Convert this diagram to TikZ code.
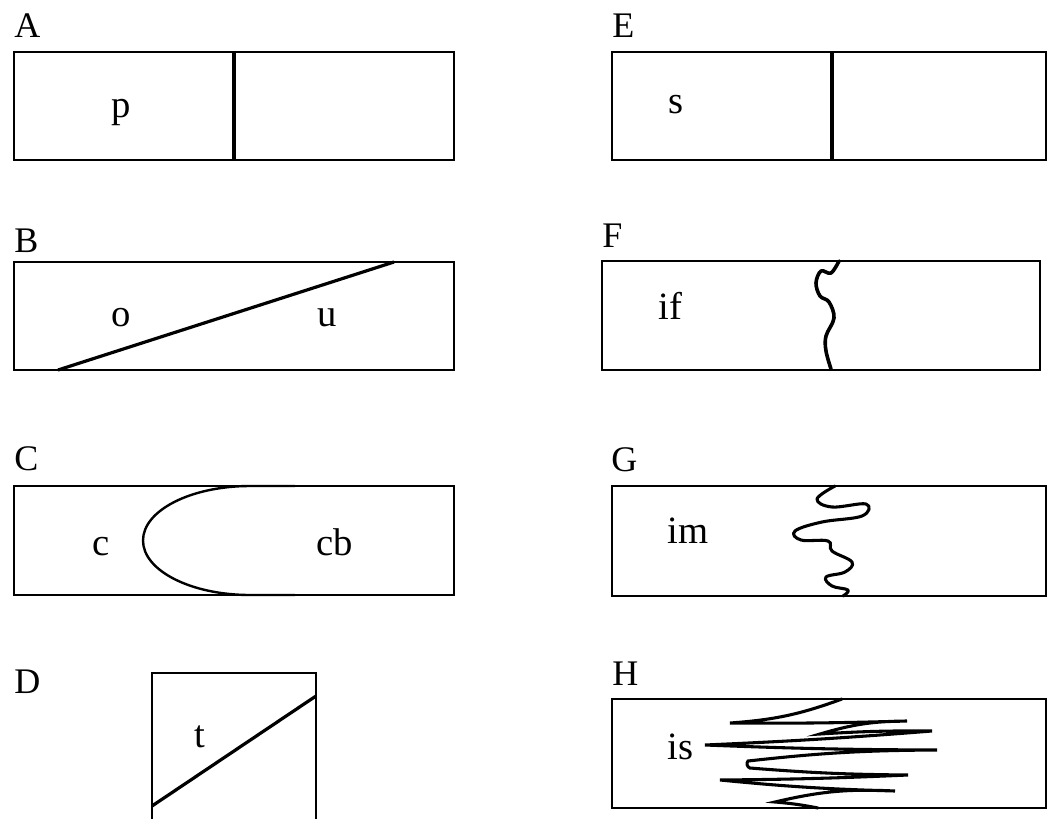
\documentclass[tikz,border=0pt]{standalone}
\usepackage{fontspec}
\setmainfont{Liberation Serif}
\tikzset{%
  % shapes
  panel/.style={draw, line width=1.8pt},
  split/.style={line width=2.4pt},
  wave/.style={line width=2.7pt, line join=round, line cap=round},
  % texts
  tag/.style={anchor=base west, inner sep=0pt, font=\fontsize{27}{32}\selectfont},
  part/.style={anchor=base west, inner sep=0pt, font=\fontsize{29}{34}\selectfont},
}
\begin{document}
\begin{tikzpicture}[x=0.75pt, y=-0.75pt]
  \clip (0,0) rectangle (1057,818);
  \useasboundingbox (0,0) rectangle (1057,818);

  % A: split in two
  \node[tag] (labA) at (14,37) {A};
  \draw[panel] (14,52) rectangle (454,160);
  \draw[split] (234,52) -- (234,160);
  \node[part] (p) at (111,117) {p};

  % B: oblique cut
  \node[tag] (labB) at (14,252) {B};
  \draw[panel] (14,262) rectangle (454,370);
  \draw[split] (58,370) -- (394,262);
  \node[part] (o) at (111,326) {o};
  \node[part] (u) at (317,326) {u};

  % C: curved cut
  \node[tag] (labC) at (14,470) {C};
  \draw[panel] (14,486) rectangle (454,595);
  \draw[line width=1.8pt] (295,486) -- (250,486)
    arc[start angle=270, end angle=90, x radius=107, y radius=54.5] -- (295,595);
  \node[part] (c) at (92,555) {c};
  \node[part] (cb) at (316,555) {cb};

  % D: tall piece
  \node[tag] (labD) at (14,693) {D};
  \draw[panel] (152,830) |- (316,673) -- (316,830);
  \draw[split] (152,806) -- (316,696);
  \node[part] (t) at (194,747) {t};

  % E: split in two
  \node[tag] (labE) at (612,37) {E};
  \draw[panel] (612,52) rectangle (1046,160);
  \draw[split] (832,52) -- (832,160);
  \node[part] (s) at (668,113) {s};

  % F: wavy cut
  \node[tag] (labF) at (602,247) {F};
  \draw[panel] (602,261) rectangle (1040,370);
  \draw[wave] plot[smooth, tension=0.6] coordinates {(839,261) (831,273) (821,271)
    (816,283) (820,296) (829,302) (834,318) (826,336) (826,351) (831,369)};
  \node[part] (if) at (658,319) {if};

  % G: meandering cut
  \node[tag] (labG) at (611,471) {G};
  \draw[panel] (612,486) rectangle (1046,596);
  \draw[wave, line width=2.3pt] plot[smooth, tension=0.65] coordinates {(835,486) (817,499)
    (832,507) (866,504) (862,516) (822,522) (795,531) (801,540) (828,541) (832,551)
    (852,562) (845,572) (826,577) (832,586) (848,590) (843,596)};
  \node[part] (im) at (667,543) {im};

  % H: zigzag cut
  \node[tag] (labH) at (612,685) {H};
  \draw[panel] (612,699) rectangle (1046,808);
  \draw[wave, line width=2.3pt, line join=miter] (842,699) to[bend left=8] (730,723)
    to[bend right=1] (907,721) to[bend right=8] (820,734)
    to[bend left=2] (932,731) to[bend left=1] (705,745)
    to[bend right=1] (937,750) to[bend right=3] (748,761)
    to[bend right=60] (750,768) to[bend right=2] (908,775)
    to[bend left=1] (720,780) to[bend right=2] (895,791)
    to[bend right=8] (775,802) to[bend left=3] (818,808);
  \node[part] (is) at (667,759) {is};
\end{tikzpicture}
\end{document}
